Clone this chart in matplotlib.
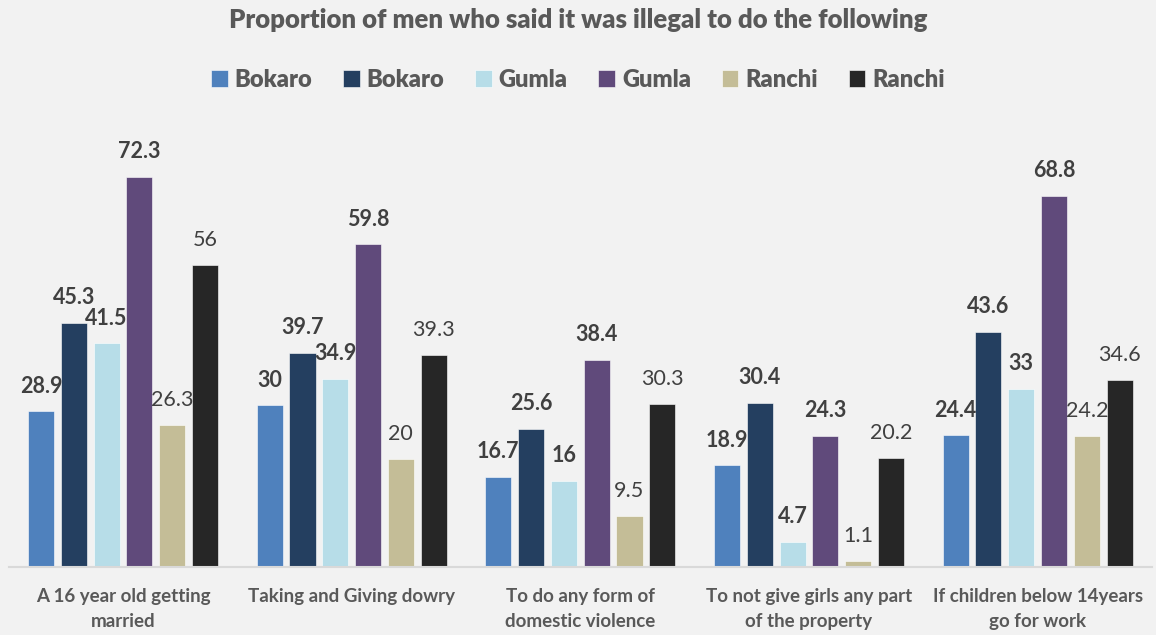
import numpy as np
import matplotlib
matplotlib.use("Agg")
import matplotlib.pyplot as plt

plt.rcParams['font.family'] = ['Lato', 'DejaVu Sans']

categories = ["A 16 year old getting\nmarried", "Taking and Giving dowry",
              "To do any form of\ndomestic violence", "To not give girls any part\nof the property",
              "If children below 14years\ngo for work"]
series_names = ["Bokaro", "Bokaro", "Gumla", "Gumla", "Ranchi", "Ranchi"]
bokaro_a = [28.9, 30, 16.7, 18.9, 24.4]
bokaro_b = [45.3, 39.7, 25.6, 30.4, 43.6]
gumla_a = [41.5, 34.9, 16, 4.7, 33]
gumla_b = [72.3, 59.8, 38.4, 24.3, 68.8]
ranchi_a = [26.3, 20, 9.5, 1.1, 24.2]
ranchi_b = [56, 39.3, 30.3, 20.2, 34.6]
values = [bokaro_a, bokaro_b, gumla_a, gumla_b, ranchi_a, ranchi_b]

colors = ["#4f81bd", "#243f60", "#b7dde8", "#604a7b", "#c4bd97", "#262626"]
bold_labels = [True, True, True, True, False, False]

fig = plt.figure(figsize=(11.56, 6.35), dpi=100, facecolor="#f2f2f2")
ax = fig.add_axes([0.0075, 0.107, 0.989, 0.68])
ax.set_facecolor("#f2f2f2")

x = np.arange(len(categories))
pitch = 0.1434
width = 0.114
for i, (name, vals) in enumerate(zip(series_names, values)):
    pos = x + (i - 2.5) * pitch
    ax.bar(pos, vals, width, color=colors[i], label=name,
           edgecolor="#ffffff", linewidth=0.4)
    for xb, v in zip(pos, vals):
        ax.annotate(f"{v:g}", (xb, v), xytext=(0, 18), textcoords="offset points",
                    ha="center", va="center", fontsize=15.5, color="#404040",
                    fontweight="bold" if bold_labels[i] else "normal")

ax.set_xlim(-0.5, len(categories) - 0.5)
ax.set_ylim(0, 80)
ax.set_yticks([])
ax.set_xticks(x)
ax.set_xticklabels(categories, fontsize=13.5, fontweight="bold", color="#595959",
                   linespacing=1.55)
ax.tick_params(axis="x", length=0, pad=15)
for s in ["top", "right", "left"]:
    ax.spines[s].set_visible(False)
ax.spines["bottom"].set_color("#d9d9d9")
ax.spines["bottom"].set_linewidth(1.5)

fig.text(0.5, 1 - 20 / 635, "Proportion of men who said it was illegal to do the following",
         ha="center", va="center", fontsize=18.5, fontweight="heavy", color="#595959")

leg = fig.legend(loc="center", bbox_to_anchor=(0.5, 1 - 80 / 635), ncol=6, frameon=False,
                 handlelength=0.7, handleheight=0.7, handletextpad=0.3,
                 columnspacing=1.3, prop={"size": 17, "weight": "heavy"})
for t in leg.get_texts():
    t.set_color("#595959")

fig.savefig("out.png", dpi=100, facecolor=fig.get_facecolor())
